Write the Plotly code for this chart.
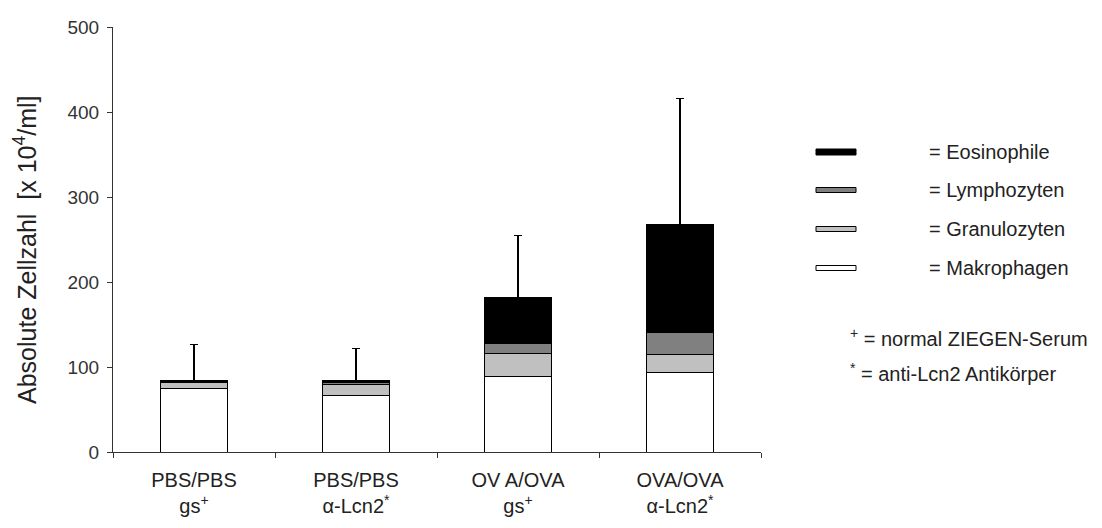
import plotly.graph_objects as go

categories = ["PBS/PBS gs+", "PBS/PBS a-Lcn2*", "OV A/OVA gs+", "OVA/OVA a-Lcn2*"]
tick_labels = ["PBS/PBS<br>gs<sup>+</sup>", "PBS/PBS<br>α-Lcn2<sup>*</sup>",
               "OV A/OVA<br>gs<sup>+</sup>", "OVA/OVA<br>α-Lcn2<sup>*</sup>"]

makrophagen = [75.0, 67.0, 88.6, 93.3]
granulozyten = [7.0, 12.6, 27.1, 21.2]
lymphozyten = [0.6, 1.9, 11.8, 26.3]
eosinophile = [1.4, 2.5, 54.5, 126.6]
error_up = [42.7, 38.0, 72.5, 148.6]

series_names = ["Eosinophile", "Lymphozyten", "Granulozyten", "Makrophagen"]
series_colors = ["#000000", "#808080", "#c0c0c0", "#ffffff"]
footnotes = ["<sup>+</sup> = normal ZIEGEN-Serum", "<sup>*</sup> = anti-Lcn2 Antikörper"]
y_title = "Absolute Zellzahl  [x 10<sup>4</sup>/ml]"

# page body has an 8px margin; compensate so the plot lands where the reference has it
OFF = 8
W, H = 1102, 528
L, T = 113 - OFF, 27 - OFF
pw, ph = 648, 425
R, B = W - L - pw, H - T - ph
FONT = "Liberation Sans, Arial, sans-serif"

fig = go.Figure()
stack = [("Makrophagen", makrophagen, "#ffffff"),
         ("Granulozyten", granulozyten, "#c0c0c0"),
         ("Lymphozyten", lymphozyten, "#808080"),
         ("Eosinophile", eosinophile, "#000000")]
for name, vals, col in stack:
    kw = {}
    if name == "Eosinophile":
        kw["error_y"] = dict(type="data", symmetric=False, array=error_up,
                             arrayminus=[0] * len(error_up), color="#000000",
                             thickness=1.5, width=4)
    fig.add_trace(go.Bar(x=categories, y=vals, name=name, marker_color=col,
                         marker_line=dict(color="#000000", width=1),
                         width=0.41, showlegend=False, **kw))

# reference pixel -> paper coords
def px_to_paper_x(px):
    return (px - 113) / pw

def px_to_paper_y(py):
    return (452 - py) / ph

shapes = []
annotations = []
rows_y = [152, 190, 229, 268]
for name, col, py in zip(series_names, series_colors, rows_y):
    hh = 3.0 if name == "Eosinophile" else 2.5
    shapes.append(dict(type="rect", xref="paper", yref="paper",
                       x0=px_to_paper_x(816), x1=px_to_paper_x(856),
                       y0=px_to_paper_y(py + hh), y1=px_to_paper_y(py - hh),
                       fillcolor=col, line=dict(color="#000000", width=1)))
    annotations.append(dict(text="= " + name, xref="paper", yref="paper",
                            x=px_to_paper_x(927), y=px_to_paper_y(py),
                            xanchor="left", yanchor="middle", showarrow=False,
                            font=dict(size=20, color="#222222", family=FONT)))
for txt, py in zip(footnotes, [337, 372]):
    annotations.append(dict(text=txt, xref="paper", yref="paper",
                            x=px_to_paper_x(848), y=px_to_paper_y(py),
                            xanchor="left", yanchor="middle", showarrow=False,
                            font=dict(size=20, color="#222222", family=FONT)))
annotations.append(dict(text=y_title, xref="paper", yref="paper", textangle=-90,
                        x=px_to_paper_x(25), y=px_to_paper_y(250),
                        xanchor="center", yanchor="middle", showarrow=False,
                        font=dict(size=25, color="#222222", family=FONT)))

fig.update_layout(
    barmode="stack",
    width=W, height=H,
    margin=dict(l=L, r=R, t=T, b=B, autoexpand=False),
    paper_bgcolor="#ffffff", plot_bgcolor="#ffffff",
    shapes=shapes, annotations=annotations,
    font=dict(family=FONT, color="#222222"),
    xaxis=dict(type="category", tickmode="array", tickvals=categories, ticktext=tick_labels,
               tickson="boundaries", ticks="outside", ticklen=5, tickcolor="#333333",
               showline=True, linecolor="#333333", linewidth=1, showgrid=False,
               zeroline=False, tickfont=dict(size=20, color="#222222"),
               ticklabelstandoff=10,
               range=[-0.5, 3.5], automargin=False),
    yaxis=dict(range=[0, 500], tickvals=[0, 100, 200, 300, 400, 500],
               ticks="outside", ticklen=5, tickcolor="#333333",
               showline=True, linecolor="#333333", linewidth=1, showgrid=False,
               zeroline=False, automargin=False, ticklabelstandoff=4,
               tickfont=dict(size=19, color="#333333", family=FONT)),
)

fig.write_html("out.html")
